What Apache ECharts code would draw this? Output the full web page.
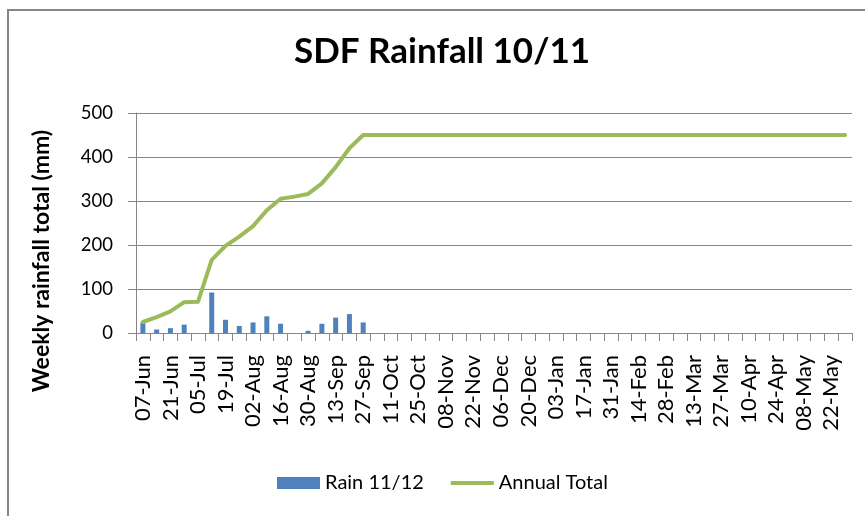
<!DOCTYPE html>
<html><head><meta charset="utf-8">
<script src="https://cdn.jsdelivr.net/npm/echarts@6/dist/echarts.min.js"></script>
<style>html,body{margin:0;padding:0;background:#fff}#c{width:865px;height:516px}</style>
</head><body><div id="c"></div>
<script>
const weeks = ["07-Jun","14-Jun","21-Jun","28-Jun","05-Jul","12-Jul","19-Jul","26-Jul","02-Aug","09-Aug","16-Aug","23-Aug","30-Aug","06-Sep","13-Sep","20-Sep","27-Sep","04-Oct","11-Oct","18-Oct","25-Oct","01-Nov","08-Nov","15-Nov","22-Nov","29-Nov","06-Dec","13-Dec","20-Dec","27-Dec","03-Jan","10-Jan","17-Jan","24-Jan","31-Jan","07-Feb","14-Feb","21-Feb","28-Feb","06-Mar","13-Mar","20-Mar","27-Mar","03-Apr","10-Apr","17-Apr","24-Apr","01-May","08-May","15-May","22-May","29-May"];
const rain = [24,8,11,19,0,92,30,16,24,38,21,0,5,21,35,43,24,0,0,0,0,0,0,0,0,0,0,0,0,0,0,0,0,0,0,0,0,0,0,0,0,0,0,0,0,0,0,0,0,0,0,0];
const annual = [25,36,49,70,71,166,198,219,243,279,305,310,316,340,377,420,450,450,450,450,450,450,450,450,450,450,450,450,450,450,450,450,450,450,450,450,450,450,450,450,450,450,450,450,450,450,450,450,450,450,450,450];
const yTicks = [0,100,200,300,400,500];

const chart = echarts.init(document.getElementById('c'), null, {renderer:'canvas'});
const font = 'Lato';
chart.setOption({
  animation:false,
  backgroundColor:'#fff',
  title:{text:'SDF Rainfall 10/11', left:437, textAlign:'center', top:29,
    textStyle:{fontFamily:font, fontWeight:'bold', fontSize:35, color:'#000'}},
  grid:{left:136, right:13, top:113, bottom:183},
  legend:{top:473, left:277, padding:0, itemGap:27, itemWidth:43, itemHeight:12,
    textStyle:{fontFamily:font, fontSize:20, color:'#000'},
    data:[{name:'Rain 11/12', icon:'rect'},{name:'Annual Total', icon:'path://M0,5h44v4h-44z'}]},
  xAxis:{type:'category', data:weeks, boundaryGap:true,
    axisLine:{lineStyle:{color:'#868686', width:1}},
    axisTick:{show:true, alignWithLabel:false, interval:0, length:8, lineStyle:{color:'#868686'}},
    axisLabel:{interval:1, rotate:90, fontFamily:font, fontSize:22, color:'#000', margin:22}},
  yAxis:{type:'value', min:0, max:500, interval:100,
    name:'Weekly rainfall total (mm)', nameLocation:'middle', nameGap:83,
    nameTextStyle:{fontFamily:font, fontWeight:'bold', fontSize:23, color:'#000', padding:[0,76,0,0]},
    axisLine:{show:true, lineStyle:{color:'#868686'}},
    axisTick:{show:true, length:8, lineStyle:{color:'#868686'}},
    axisLabel:{fontFamily:font, fontSize:18.5, color:'#000', margin:23,
      formatter:v=>yTicks.includes(v)?String(v):''},
    splitLine:{lineStyle:{color:'#868686', width:1}}},
  series:[
    {name:'Rain 11/12', type:'bar', data:rain, barWidth:5, itemStyle:{color:'#4F81BD'}},
    {name:'Annual Total', type:'line', data:annual, symbol:'none', smooth:false,
      lineStyle:{color:'#9BBB59', width:4, join:'round', cap:'round'}, itemStyle:{color:'#9BBB59'}}
  ],
  graphic:[{type:'polyline', shape:{points:[[8,516],[8,10],[865,10]]}, style:{stroke:'#868686', lineWidth:2, fill:null}}]
});
</script></body></html>
